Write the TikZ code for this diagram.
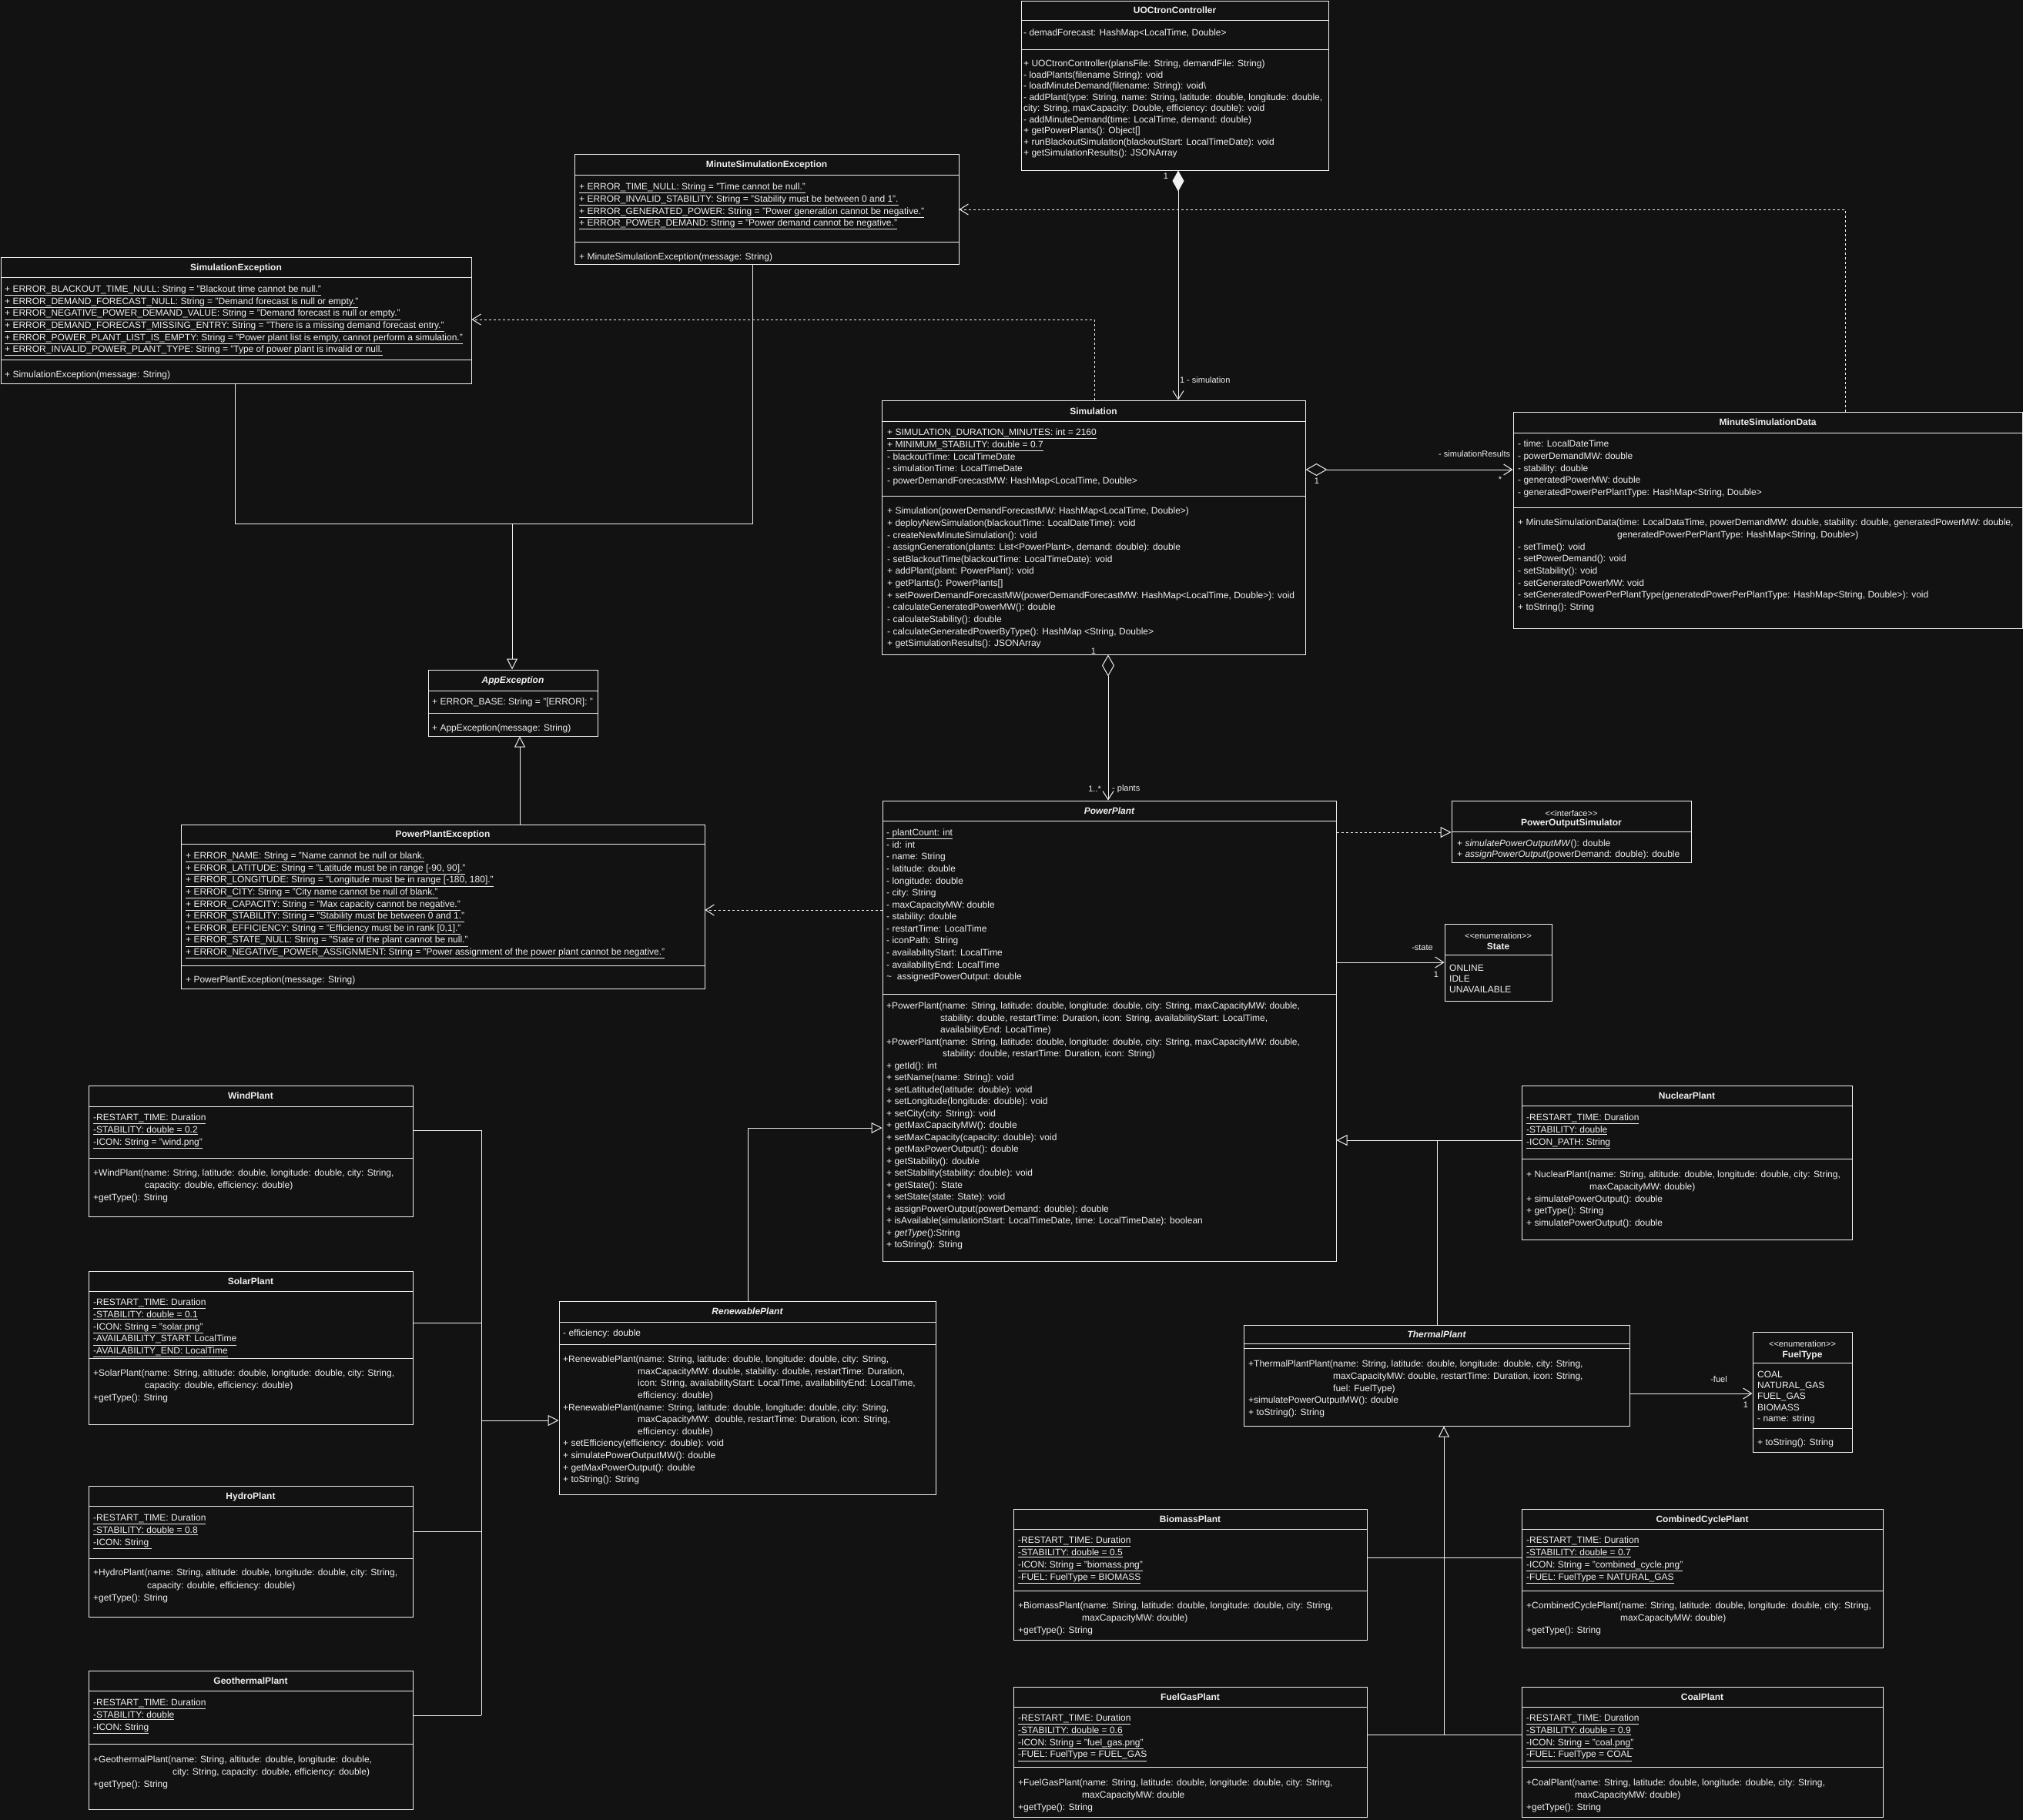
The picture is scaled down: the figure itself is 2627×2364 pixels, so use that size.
\documentclass[tikz,border=0pt]{standalone}
\usepackage{fontspec}
\setmainfont{Liberation Sans}
\usetikzlibrary{arrows.meta,fit}

\definecolor{bg}{RGB}{18,18,18}
\definecolor{fg}{RGB}{240,240,240}

% class rectangle spanning two corners, and a compartment separator
\newcommand\classbox[5]{\node[clsbox, fit={(#2,#3) (#4,#5)}] (#1) {};}
\newcommand\compline[3]{\draw[sepl] (#1,#3) -- (#2,#3);}
\newcommand\uln[1]{\underline{#1}}

\tikzset{
  clsbox/.style={draw=fg, line width=1pt, fill=bg, inner sep=0pt},
  ctitle/.style={anchor=base, text=fg, inner sep=0pt, font=\fontsize{12}{14}\selectfont\bfseries},
  atitle/.style={ctitle, font=\fontsize{12}{14}\selectfont\bfseries\itshape},
  stereo/.style={anchor=base, text=fg, inner sep=0pt, font=\fontsize{11}{13}\selectfont},
  txt/.style={anchor=north west, inner sep=0pt, align=left, text=fg,
    font=\fontsize{12}{#1}\selectfont, execute at begin node={\rule{0pt}{11.5pt}}},
  txt/.default=15.6,
  ml/.style={yshift=-3pt},
  sepl/.style={draw=fg, line width=1pt},
  conn/.style={draw=fg, line width=1pt},
  dep/.style={conn, dash pattern=on 3pt off 3pt},
  lbl/.style={text=fg, inner sep=0pt, font=\fontsize{11}{13}\selectfont},
  openhead/.tip={Straight Barb[length=11pt,width=14pt]},
  hollow/.tip={Triangle[length=14pt,width=14pt,fill=bg]},
  fdiamond/.tip={Diamond[length=27pt,width=15pt]},
  hdiamond/.tip={Diamond[length=28pt,width=16pt,fill=bg]},
}

\begin{document}
\begin{tikzpicture}[x=1pt,y=-1pt]
\fill[bg] (0,0) rectangle (2627,2364);
\useasboundingbox (0,0) rectangle (2627,2364);

% ---------------- UOCtronController ----------------
\classbox{uoc}{1326}{1}{1725}{221}
\compline{1326}{1725}{26}\compline{1326}{1725}{64}
\node[ctitle] (uoc-t) at (1525.5,17.8) {UOCtronController};
\node[txt=14.5] (uoc-a) at (1329,34.8) {- demadForecast: HashMap<LocalTime, Double>};
\node[txt=14.5, ml] (uoc-m) at (1329,74.8) {+ UOCtronController(plansFile: String, demandFile: String)\\
- loadPlants(filename String): void\\
- loadMinuteDemand(filename: String): void\textbackslash\\
- addPlant(type: String, name: String, latitude: double, longitude: double,\\
city: String, maxCapacity: Double, efficiency: double): void\\
- addMinuteDemand(time: LocalTime, demand: double)\\
+ getPowerPlants(): Object[]\\
+ runBlackoutSimulation(blackoutStart: LocalTimeDate): void\\
+ getSimulationResults(): JSONArray};

% ---------------- MinuteSimulationException ----------------
\classbox{mse}{746}{200}{1245}{343}
\compline{746}{1245}{227}\compline{746}{1245}{314}
\node[ctitle] (mse-t) at (995.5,217.8) {MinuteSimulationException};
\node[txt=15.7, ml] (mse-a) at (752,234.8) {\uln{+ ERROR\_TIME\_NULL: String = "Time cannot be null."}\\
\uln{+ ERROR\_INVALID\_STABILITY: String = "Stability must be between 0 and 1".}\\
\uln{+ ERROR\_GENERATED\_POWER: String = "Power generation cannot be negative."}\\
\uln{+ ERROR\_POWER\_DEMAND: String = "Power demand cannot be negative."}};
\node[txt] (mse-m) at (752,325.8) {+ MinuteSimulationException(message: String)};

% ---------------- SimulationException ----------------
\classbox{se}{1}{334}{612}{498}
\compline{1}{612}{360}\compline{1}{612}{467}
\node[ctitle] (se-t) at (306.5,351.3) {SimulationException};
\node[txt, ml] (se-a) at (6,367.8) {\uln{+ ERROR\_BLACKOUT\_TIME\_NULL: String = "Blackout time cannot be null."}\\
\uln{+ ERROR\_DEMAND\_FORECAST\_NULL: String = "Demand forecast is null or empty."}\\
\uln{+ ERROR\_NEGATIVE\_POWER\_DEMAND\_VALUE: String = "Demand forecast is null or empty."}\\
\uln{+ ERROR\_DEMAND\_FORECAST\_MISSING\_ENTRY: String = "There is a missing demand forecast entry."}\\
\uln{+ ERROR\_POWER\_PLANT\_LIST\_IS\_EMPTY: String = "Power plant list is empty, cannot perform a simulation."}\\
\uln{+ ERROR\_INVALID\_POWER\_PLANT\_TYPE: String = "Type of power plant is invalid or null.}};
\node[txt] (se-m) at (6,478.8) {+ SimulationException(message: String)};

% ---------------- Simulation ----------------
\classbox{sim}{1145}{520}{1695}{850}
\compline{1145}{1695}{547}\compline{1145}{1695}{644}
\node[ctitle] (sim-t) at (1420,538.3) {Simulation};
\node[txt=15.75, ml] (sim-a) at (1152,553.8) {\uln{+ SIMULATION\_DURATION\_MINUTES: int = 2160}\\
\uln{+ MINIMUM\_STABILITY: double = 0.7}\\
- blackoutTime: LocalTimeDate\\
- simulationTime: LocalTimeDate\\
- powerDemandForecastMW: HashMap<LocalTime, Double>};
\node[txt=15.65, ml] (sim-m) at (1152,655.8) {+ Simulation(powerDemandForecastMW: HashMap<LocalTime, Double>)\\
+ deployNewSimulation(blackoutTime: LocalDateTime): void\\
- createNewMinuteSimulation(): void\\
- assignGeneration(plants: List<PowerPlant>, demand: double): double\\
- setBlackoutTime(blackoutTime: LocalTimeDate): void\\
+ addPlant(plant: PowerPlant): void\\
+ getPlants(): PowerPlants[]\\
+ setPowerDemandForecastMW(powerDemandForecastMW: HashMap<LocalTime, Double>): void\\
- calculateGeneratedPowerMW(): double\\
- calculateStability(): double\\
- calculateGeneratedPowerByType(): HashMap <String, Double>\\
+ getSimulationResults(): JSONArray};

% ---------------- MinuteSimulationData ----------------
\classbox{msd}{1965}{535}{2626}{816}
\compline{1965}{2626}{562}\compline{1965}{2626}{659}
\node[ctitle] (msd-t) at (2295.5,552.8) {MinuteSimulationData};
\node[txt=15.75, ml] (msd-a) at (1971,568.8) {- time: LocalDateTime\\
- powerDemandMW: double\\
- stability: double\\
- generatedPowerMW: double\\
- generatedPowerPerPlantType: HashMap<String, Double>};
\node[txt=15.7, ml] (msd-m) at (1971,670.8) {+ MinuteSimulationData(time: LocalDataTime, powerDemandMW: double, stability: double, generatedPowerMW: double,\\
\hspace*{129pt}generatedPowerPerPlantType: HashMap<String, Double>)\\
- setTime(): void\\
- setPowerDemand(): void\\
- setStability(): void\\
- setGeneratedPowerMW: void\\
- setGeneratedPowerPerPlantType(generatedPowerPerPlantType: HashMap<String, Double>): void\\
+ toString(): String};

% ---------------- AppException ----------------
\classbox{appex}{556}{870}{776}{956}
\compline{556}{776}{897}\compline{556}{776}{926}
\node[atitle] (appex-t) at (666,887.8) {AppException};
\node[txt] (appex-a) at (561,903.8) {+ ERROR\_BASE: String = "[ERROR]: "};
\node[txt] (appex-m) at (561,937.8) {+ AppException(message: String)};

% ---------------- PowerPlantException ----------------
\classbox{ppe}{235}{1071}{915}{1284}
\compline{235}{915}{1096}\compline{235}{915}{1254}
\node[ctitle] (ppe-t) at (575,1087.8) {PowerPlantException};
\node[txt, ml] (ppe-a) at (241,1103.8) {\uln{+ ERROR\_NAME: String = "Name cannot be null or blank.}\\
\uln{+ ERROR\_LATITUDE: String = "Latitude must be in range [-90, 90]."}\\
\uln{+ ERROR\_LONGITUDE: String = "Longitude must be in range [-180, 180]."}\\
\uln{+ ERROR\_CITY: String = "City name cannot be null of blank."}\\
\uln{+ ERROR\_CAPACITY: String = "Max capacity cannot be negative."}\\
\uln{+ ERROR\_STABILITY: String = "Stability must be between 0 and 1."}\\
\uln{+ ERROR\_EFFICIENCY: String = "Efficiency must be in rank [0,1]."}\\
\uln{+ ERROR\_STATE\_NULL: String = "State of the plant cannot be null."}\\
\uln{+ ERROR\_NEGATIVE\_POWER\_ASSIGNMENT: String = "Power assignment of the power plant cannot be negative."}};
\node[txt] (ppe-m) at (241,1264.8) {+ PowerPlantException(message: String)};

% ---------------- PowerPlant ----------------
\classbox{pp}{1146}{1040}{1735}{1638}
\compline{1146}{1735}{1066}\compline{1146}{1735}{1291}
\node[atitle] (pp-t) at (1440.5,1057.3) {PowerPlant};
\node[txt=15.58, ml] (pp-a) at (1151,1073.8) {\uln{- plantCount: int}\\
- id: int\\
- name: String\\
- latitude: double\\
- longitude: double\\
- city: String\\
- maxCapacityMW: double\\
- stability: double\\
- restartTime: LocalTime\\
- iconPath: String\\
- availabilityStart: LocalTime\\
- availabilityEnd: LocalTime\\
\textasciitilde\ \ assignedPowerOutput: double};
\node[txt=15.5, ml] (pp-m) at (1151,1298.8) {+PowerPlant(name: String, latitude: double, longitude: double, city: String, maxCapacityMW: double,\\
\hspace*{70pt}stability: double, restartTime: Duration, icon: String, availabilityStart: LocalTime,\\
\hspace*{70pt}availabilityEnd: LocalTime)\\
+PowerPlant(name: String, latitude: double, longitude: double, city: String, maxCapacityMW: double,\\
\hspace*{73pt}stability: double, restartTime: Duration, icon: String)\\
+ getId(): int\\
+ setName(name: String): void\\
+ setLatitude(latitude: double): void\\
+ setLongitude(longitude: double): void\\
+ setCity(city: String): void\\
+ getMaxCapacityMW(): double\\
+ setMaxCapacity(capacity: double): void\\
+ getMaxPowerOutput(): double\\
+ getStability(): double\\
+ setStability(stability: double): void\\
+ getState(): State\\
+ setState(state: State): void\\
+ assignPowerOutput(powerDemand: double): double\\
+ isAvailable(simulationStart: LocalTimeDate, time: LocalTimeDate): boolean\\
+ \textit{getType}():String\\
+ toString(): String};

% ---------------- PowerOutputSimulator ----------------
\classbox{pos}{1885}{1040}{2196}{1120}
\compline{1885}{2196}{1080}
\node[stereo] (pos-s) at (2040.5,1060) {<{}<interface>{}>};
\node[ctitle] (pos-t) at (2040.5,1072.3) {PowerOutputSimulator};
\node[txt=14, ml] (pos-m) at (1892,1087.8) {+ \textit{simulatePowerOutputMW}(): double\\
+ \textit{assignPowerOutput}(powerDemand: double): double};

% ---------------- State ----------------
\classbox{state}{1876}{1200}{2015}{1300}
\compline{1876}{2015}{1240}
\node[stereo] (state-s) at (1945.5,1219) {<{}<enumeration>{}>};
\node[ctitle] (state-t) at (1945.5,1233.3) {State};
\node[txt=14, ml] (state-l) at (1882,1249.8) {ONLINE\\IDLE\\UNAVAILABLE};

% ---------------- Renewable plants ----------------
\classbox{wind}{115}{1410}{536}{1580}
\compline{115}{536}{1437}\compline{115}{536}{1504}
\node[ctitle] (wind-t) at (325.5,1427.8) {WindPlant};
\node[txt=16, ml] (wind-a) at (121,1443.8) {\uln{-RESTART\_TIME: Duration}\\
\uln{-STABILITY: double = 0.2}\\
\uln{-ICON: String = "wind.png"}};
\node[txt=16, ml] (wind-m) at (121,1515.8) {+WindPlant(name: String, latitude: double, longitude: double, city: String,\\
\hspace*{67pt}capacity: double, efficiency: double)\\
+getType(): String};

\classbox{solar}{115}{1651}{536}{1850}
\compline{115}{536}{1677}\compline{115}{536}{1764}
\node[ctitle] (solar-t) at (325.5,1668.3) {SolarPlant};
\node[txt=15.75, ml] (solar-a) at (121,1683.8) {\uln{-RESTART\_TIME: Duration}\\
\uln{-STABILITY: double = 0.1}\\
\uln{-ICON: String = "solar.png"}\\
\uln{-AVAILABILITY\_START: LocalTime}\\
\uln{-AVAILABILITY\_END: LocalTime}};
\node[txt=16, ml] (solar-m) at (121,1775.8) {+SolarPlant(name: String, altitude: double, longitude: double, city: String,\\
\hspace*{67pt}capacity: double, efficiency: double)\\
+getType(): String};

\classbox{hydro}{115}{1930}{536}{2100}
\compline{115}{536}{1956}\compline{115}{536}{2024}
\node[ctitle] (hydro-t) at (325.5,1947.3) {HydroPlant};
\node[txt=16, ml] (hydro-a) at (121,1963.8) {\uln{-RESTART\_TIME: Duration}\\
\uln{-STABILITY: double = 0.8}\\
\uln{-ICON: String\ }};
\node[txt=16.3, ml] (hydro-m) at (121,2034.8) {+HydroPlant(name: String, altitude: double, longitude: double, city: String,\\
\hspace*{70pt}capacity: double, efficiency: double)\\
+getType(): String};

\classbox{geo}{115}{2170}{536}{2350}
\compline{115}{536}{2196}\compline{115}{536}{2265}
\node[ctitle] (geo-t) at (325.5,2187.3) {GeothermalPlant};
\node[txt=16, ml] (geo-a) at (121,2203.8) {\uln{-RESTART\_TIME: Duration}\\
\uln{-STABILITY: double}\\
\uln{-ICON: String}};
\node[txt=16, ml] (geo-m) at (121,2277.8) {+GeothermalPlant(name: String, altitude: double, longitude: double,\\
\hspace*{103pt}city: String, capacity: double, efficiency: double)\\
+getType(): String};

\classbox{rp}{726}{1690}{1215}{1941}
\compline{726}{1215}{1717}\compline{726}{1215}{1746}
\node[atitle] (rp-t) at (970.5,1707.8) {RenewablePlant};
\node[txt] (rp-a) at (731,1723.8) {- efficiency: double};
\node[txt=15.6, ml] (rp-m) at (731,1757.8) {+RenewablePlant(name: String, latitude: double, longitude: double, city: String,\\
\hspace*{97pt}maxCapacityMW: double, stability: double, restartTime: Duration,\\
\hspace*{97pt}icon: String, availabilityStart: LocalTime, availabilityEnd: LocalTime,\\
\hspace*{97pt}efficiency: double)\\
+RenewablePlant(name: String, latitude: double, longitude: double, city: String,\\
\hspace*{97pt}maxCapacityMW:\ \ double, restartTime: Duration, icon: String,\\
\hspace*{97pt}efficiency: double)\\
+ setEfficiency(efficiency: double): void\\
+ simulatePowerOutputMW(): double\\
+ getMaxPowerOutput(): double\\
+ toString(): String};

% ---------------- Thermal plants ----------------
\classbox{nuclear}{1976}{1410}{2405}{1610}
\compline{1976}{2405}{1436}\compline{1976}{2405}{1505}
\node[ctitle] (nuclear-t) at (2190.5,1427.8) {NuclearPlant};
\node[txt=16, ml] (nuclear-a) at (1982,1443.8) {\uln{-RESTART\_TIME: Duration}\\
\uln{-STABILITY: double}\\
\uln{-ICON\_PATH: String}};
\node[txt=15.75, ml] (nuclear-m) at (1982,1517.8) {+ NuclearPlant(name: String, altitude: double, longitude: double, city: String,\\
\hspace*{82pt}maxCapacityMW: double)\\
+ simulatePowerOutput(): double\\
+ getType(): String\\
+ simulatePowerOutput(): double};

\classbox{thermal}{1615}{1721}{2116}{1852}
\compline{1615}{2116}{1745}\compline{1615}{2116}{1751}
\node[atitle] (thermal-t) at (1865.5,1737.3) {ThermalPlant};
\node[txt=15.75, ml] (thermal-m) at (1621,1763.8) {+ThermalPlantPlant(name: String, latitude: double, longitude: double, city: String,\\
\hspace*{110pt}maxCapacityMW: double, restartTime: Duration, icon: String,\\
\hspace*{110pt}fuel: FuelType)\\
+simulatePowerOutputMW(): double\\
+ toString(): String};

\classbox{fueltype}{2276}{1730}{2405}{1886}
\compline{2276}{2405}{1770}\compline{2276}{2405}{1855}
\node[stereo] (fueltype-s) at (2340.5,1749) {<{}<enumeration>{}>};
\node[ctitle] (fueltype-t) at (2340.5,1763.3) {FuelType};
\node[txt=14.25, ml] (fueltype-l) at (2282,1777.8) {COAL\\NATURAL\_GAS\\FUEL\_GAS\\BIOMASS\\- name: string};
\node[txt] (fueltype-m) at (2282,1865.8) {+ toString(): String};

\classbox{biomass}{1316}{1960}{1775}{2130}
\compline{1316}{1775}{1986}\compline{1316}{1775}{2066}
\node[ctitle] (biomass-t) at (1545.5,1977.3) {BiomassPlant};
\node[txt=16, ml] (biomass-a) at (1322,1992.8) {\uln{-RESTART\_TIME: Duration}\\
\uln{-STABILITY: double = 0.5}\\
\uln{-ICON: String = "biomass.png"}\\
\uln{-FUEL: FuelType = BIOMASS}};
\node[txt=15.7, ml] (biomass-m) at (1322,2077.8) {+BiomassPlant(name: String, latitude: double, longitude: double, city: String,\\
\hspace*{83pt}maxCapacityMW: double)\\
+getType(): String};

\classbox{cc}{1976}{1960}{2445}{2140}
\compline{1976}{2445}{1986}\compline{1976}{2445}{2066}
\node[ctitle] (cc-t) at (2210.5,1977.3) {CombinedCyclePlant};
\node[txt=16, ml] (cc-a) at (1982,1992.8) {\uln{-RESTART\_TIME: Duration}\\
\uln{-STABILITY: double = 0.7}\\
\uln{-ICON: String = "combined\_cycle.png"}\\
\uln{-FUEL: FuelType = NATURAL\_GAS}};
\node[txt=15.7, ml] (cc-m) at (1982,2077.8) {+CombinedCyclePlant(name: String, latitude: double, longitude: double, city: String,\\
\hspace*{122pt}maxCapacityMW: double)\\
+getType(): String};

\classbox{fuelgas}{1316}{2191}{1775}{2360}
\compline{1316}{1775}{2217}\compline{1316}{1775}{2295}
\node[ctitle] (fuelgas-t) at (1545.5,2208.3) {FuelGasPlant};
\node[txt=15.75, ml] (fuelgas-a) at (1322,2223.8) {\uln{-RESTART\_TIME: Duration}\\
\uln{-STABILITY: double = 0.6}\\
\uln{-ICON: String = "fuel\_gas.png"}\\
\uln{-FUEL: FuelType = FUEL\_GAS}};
\node[txt=16, ml] (fuelgas-m) at (1322,2307.8) {+FuelGasPlant(name: String, latitude: double, longitude: double, city: String,\\
\hspace*{83pt}maxCapacityMW: double\\
+getType(): String};

\classbox{coal}{1976}{2191}{2445}{2360}
\compline{1976}{2445}{2217}\compline{1976}{2445}{2295}
\node[ctitle] (coal-t) at (2210.5,2208.3) {CoalPlant};
\node[txt=15.75, ml] (coal-a) at (1982,2223.8) {\uln{-RESTART\_TIME: Duration}\\
\uln{-STABILITY: double = 0.9}\\
\uln{-ICON: String = "coal.png"}\\
\uln{-FUEL: FuelType = COAL}};
\node[txt=16, ml] (coal-m) at (1982,2307.8) {+CoalPlant(name: String, latitude: double, longitude: double, city: String,\\
\hspace*{63pt}maxCapacityMW: double)\\
+getType(): String};

% ---------------- routing points ----------------
\coordinate (c1) at (1530,0);
\coordinate (c2) at (1421,415);
\coordinate (c3) at (2396,272);
\coordinate (g1) at (305,680);
\coordinate (g2) at (977,680);
\coordinate (g3) at (665,680);
\coordinate (g4) at (675,0);
\coordinate (a1) at (1439,0);
\coordinate (a2) at (0,610);
\coordinate (r1) at (0,1081);
\coordinate (s1) at (0,1250);
\coordinate (d1) at (0,1182);
\coordinate (r2) at (971,1465);
\coordinate (bw) at (625,1468);
\coordinate (bs) at (625,1718);
\coordinate (bh) at (625,1989);
\coordinate (bg) at (625,2228);
\coordinate (b0) at (625,1845);
\coordinate (n1) at (1866,1481);
\coordinate (f1) at (0,1810);
\coordinate (t1) at (1875,2253);
\coordinate (t2) at (0,2023);

% ---------------- connectors ----------------
% controller owns the simulation
\draw[conn, fdiamond-openhead] (uoc.south -| c1) -- (sim.north -| c1);
\node[lbl] (l-uoc1) at (1514,229) {1};
\node[lbl, anchor=west] (l-sim1) at (1532,494) {1};
\node[lbl, anchor=west] (l-sim2) at (1541,494) {- simulation};

% dependencies on the exceptions
\draw[dep, -openhead] (sim.north -| c2) -- (c2) -- (se.east |- c2);
\draw[dep, -openhead] (msd.north -| c3) -- (c3) -- (mse.east |- c3);
\draw[dep, -openhead] (pp.west |- d1) -- (ppe.east |- d1);

% exception hierarchy
\draw[conn] (se.south -| g1) -- (g1) -- (g2) -- (mse.south -| g2);
\draw[conn, -hollow] (g3) -- (appex.north -| g3);
\draw[conn, -hollow] (ppe.north -| g4) -- (appex.south -| g4);

% simulation aggregates plants and minute data
\draw[conn, hdiamond-openhead] (sim.south -| a1) -- (pp.north -| a1);
\node[lbl] (l-pp1) at (1420,846) {1};
\node[lbl, anchor=east] (l-pp2) at (1430,1025) {1..*};
\node[lbl, anchor=west] (l-pp3) at (1444,1025) {- plants};
\draw[conn, hdiamond-openhead] (sim.east |- a2) -- (msd.west |- a2);
\node[lbl, anchor=west] (l-msd1) at (1868,590) {- simulationResults};
\node[lbl] (l-msd2) at (1710,625) {1};
\node[lbl] (l-msd3) at (1948,623) {*};

% interface and state
\draw[dep, -hollow] (pp.east |- r1) -- (pos.west |- r1);
\draw[conn, -openhead] (pp.east |- s1) -- (state.west |- s1);
\node[lbl] (l-st1) at (1847,1231) {-state};
\node[lbl] (l-st2) at (1865,1266) {1};

% renewable hierarchy
\draw[conn, -hollow] (rp.north -| r2) -- (r2) -- (pp.west |- r2);
\draw[conn] (wind.east |- bw) -- (bw);
\draw[conn] (solar.east |- bs) -- (bs);
\draw[conn] (hydro.east |- bh) -- (bh);
\draw[conn] (geo.east |- bg) -- (bg);
\draw[conn] (bw) -- (bg);
\draw[conn, -hollow] (b0) -- (rp.west |- b0);

% thermal hierarchy
\draw[conn, -hollow] (nuclear.west |- n1) -- (pp.east |- n1);
\draw[conn] (thermal.north -| n1) -- (n1);
\draw[conn, -openhead] (thermal.east |- f1) -- (fueltype.west |- f1);
\node[lbl] (l-f1) at (2232,1792) {-fuel};
\node[lbl] (l-f2) at (2267,1825) {1};
\draw[conn, -hollow] (t1) -- (thermal.south -| t1);
\draw[conn] (biomass.east |- t2) -- (cc.west |- t2);
\draw[conn] (fuelgas.east |- t1) -- (coal.west |- t1);

\end{tikzpicture}
\end{document}
